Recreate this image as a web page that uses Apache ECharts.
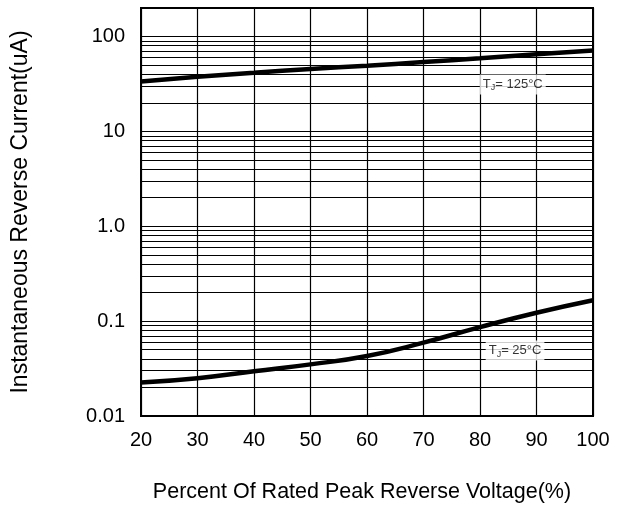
<!DOCTYPE html>
<html>
<head>
<meta charset="utf-8">
<style>html,body{margin:0;padding:0;background:#fff;}#c{width:622px;height:508px;}</style>
<script src="https://cdn.jsdelivr.net/npm/echarts@6/dist/echarts.min.js"></script>
</head>
<body>
<div id="c"></div>
<script>
var voltage = [20, 30, 40, 50, 60, 70, 80, 90, 100];
var current125 = [33.6, 37.6, 41.5, 45.5, 49.3, 53.8, 59.0, 65.0, 71.3];
var current25 = [0.0225, 0.0250, 0.0296, 0.0350, 0.0429, 0.0593, 0.0865, 0.1225, 0.166];
var yTickLabels = {'-2': '0.01', '-1': '0.1', '0': '1.0', '1': '10', '2': '100'};
var xTickLabels = ['20', '30', '40', '50', '60', '70', '80', '90', '100'];
var labelX = [85.8, 86.2];
var labelY = [31.3, 0.049];
var labelTemp = ['125', '25'];
var decades = [0.01, 0.1, 1, 10, 100];
var multipliers = [2, 3, 4, 5, 6, 7, 8, 9];

var minorLines = [];
decades.forEach(function (d) {
  multipliers.forEach(function (m) {
    var v = d * m;
    if (v < 200) minorLines.push({yAxis: v});
  });
});

function pairs(xs, ys) { return xs.map(function (x, i) { return [x, ys[i]]; }); }

var FONT = 'Liberation Sans, Arial, sans-serif';
var rich = {
  a: {fontFamily: FONT, fontSize: 13, color: '#000', lineHeight: 16, verticalAlign: 'middle'},
  b: {fontFamily: FONT, fontSize: 9, color: '#000', lineHeight: 16, verticalAlign: 'bottom', padding: [7, 0, 0, 0]}
};

var chart = echarts.init(document.getElementById('c'), null, {renderer: 'canvas'});
chart.setOption({
  animation: false,
  backgroundColor: '#fff',
  grid: {left: 141, right: 29, top: 8, bottom: 91, show: true, borderColor: '#000', borderWidth: 2, backgroundColor: 'transparent'},
  xAxis: {
    type: 'value', min: 20, max: 100, interval: 10,
    name: 'Percent Of Rated Peak Reverse Voltage(%)', nameLocation: 'middle', nameGap: 65,
    nameTextStyle: {fontFamily: FONT, fontSize: 21.5, color: '#000', padding: [0, 10, 0, 0]},
    axisLine: {show: true, lineStyle: {color: '#000', width: 2}},
    axisTick: {show: false},
    axisLabel: {fontFamily: FONT, fontSize: 20, color: '#000', margin: 14,
      formatter: function (v) { var i = Math.round((v - 20) / 10); return xTickLabels[i] || ''; }},
    splitLine: {show: true, lineStyle: {color: '#000', width: 1.2}}
  },
  yAxis: {
    type: 'log', logBase: 10, min: 0.01, max: 200,
    name: 'Instantaneous Reverse Current(uA)', nameLocation: 'middle', nameGap: 109,
    nameTextStyle: {fontFamily: FONT, fontSize: 23, color: '#000'},
    axisLine: {show: true, lineStyle: {color: '#000', width: 2}},
    axisTick: {show: false},
    axisLabel: {fontFamily: FONT, fontSize: 20, color: '#000', margin: 16,
      formatter: function (v) { var k = Math.log10(v); var r = Math.round(k); if (Math.abs(k - r) > 1e-6) return ''; return yTickLabels[String(r)] || ''; }},
    splitLine: {show: true, lineStyle: {color: '#000', width: 1.2}}
  },
  series: [
    {
      type: 'line', data: [], silent: true,
      markLine: {silent: true, symbol: 'none', label: {show: false}, animation: false,
        lineStyle: {color: '#000', width: 1.2, type: 'solid'}, data: minorLines}
    },
    {
      type: 'line', data: pairs(voltage, current125), smooth: true, symbol: 'none',
      lineStyle: {color: '#000', width: 4.5}, z: 5
    },
    {
      type: 'line', data: pairs(voltage, current25), smooth: true, symbol: 'none',
      lineStyle: {color: '#000', width: 4.5}, z: 5
    },
    {
      type: 'scatter', silent: true, z: 10, symbolSize: 1,
      itemStyle: {color: 'rgba(0,0,0,0)'},
      data: labelX.map(function (x, i) { return {value: [x, labelY[i]], name: labelTemp[i]}; }),
      label: {
        show: true, position: 'inside', backgroundColor: '#fff', padding: [2, 3, 2, 3],
        formatter: function (p) { return '{a|T}{b|J}{a|= ' + p.name + '°C}'; }, rich: rich
      }
    }
  ]
});
</script>
</body>
</html>
